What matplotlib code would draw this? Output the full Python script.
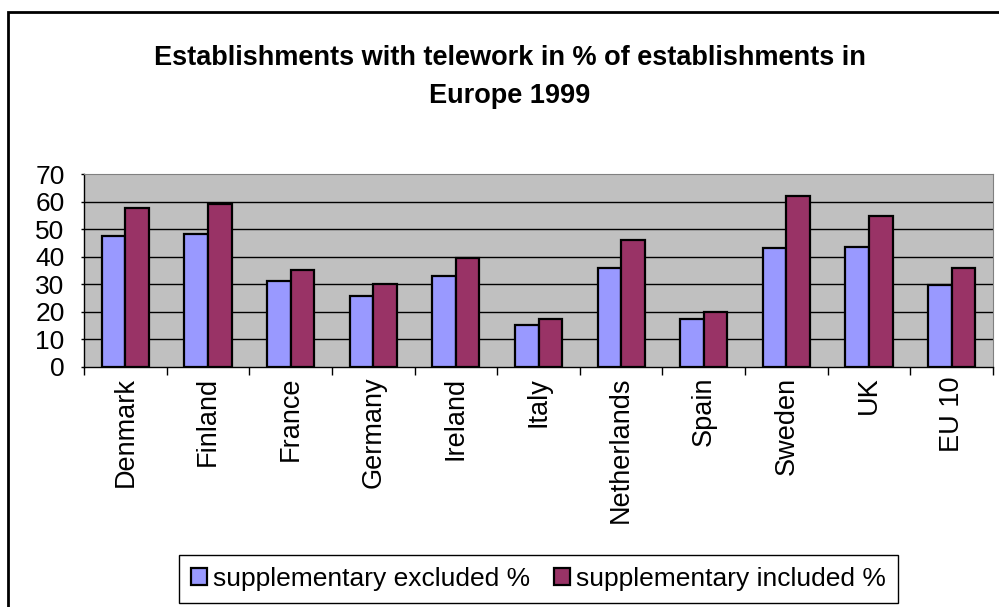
import numpy as np
import matplotlib.pyplot as plt
from matplotlib.patches import Rectangle

# Data
countries = ["Denmark", "Finland", "France", "Germany", "Ireland", "Italy",
             "Netherlands", "Spain", "Sweden", "UK", "EU 10"]
excluded = [47.4, 48.2, 31.3, 25.7, 32.9, 15.4, 35.8, 17.5, 43.1, 43.7, 29.9]
included = [57.6, 59.1, 35.1, 30.0, 39.4, 17.5, 46.0, 19.8, 62.1, 54.6, 35.8]
series_names = ["supplementary excluded %", "supplementary included %"]
title = "Establishments with telework in % of establishments in\nEurope 1999"

BLUE = "#9999FF"
PLUM = "#993366"
GREY = "#C0C0C0"

plt.rcParams['font.family'] = ['Liberation Sans', 'DejaVu Sans']

fig = plt.figure(figsize=(9.99, 6.07), dpi=100)
W, H = 999, 607

# outer chart frame (right and bottom run off the canvas)
fig.patches.append(Rectangle((8 / W, -0.05), 1.1, 1 - 12 / H + 0.05,
                             transform=fig.transFigure, fill=False,
                             edgecolor="black", linewidth=2))

ax = fig.add_axes([84 / W, 1 - 367 / H, (993 - 84) / W, (367 - 174) / H])
ax.set_facecolor(GREY)

n = len(countries)
centers = np.arange(n) + 0.5
bw = 1 / 3.5
ax.bar(centers - bw / 2, excluded, bw, color=BLUE, edgecolor="black",
       linewidth=1.6, label=series_names[0], zorder=3)
ax.bar(centers + bw / 2, included, bw, color=PLUM, edgecolor="black",
       linewidth=1.6, label=series_names[1], zorder=3)

ax.set_xlim(0, n)
ax.set_ylim(0, 70)
ax.set_yticks(range(0, 71, 10))
for y in range(10, 70, 10):
    ax.axhline(y, color="black", linewidth=1, zorder=1)

# category ticks sit on group boundaries, labels in the middle
ax.set_xticks(np.arange(n + 1))
ax.set_xticklabels([])
ax.set_xticks(centers, minor=True)
ax.set_xticklabels(countries, minor=True, rotation=90, fontsize=19.5)
ax.tick_params(axis="x", which="minor", length=0, pad=7)
ax.tick_params(axis="x", which="major", length=6, width=1, direction="out")
ax.tick_params(axis="y", length=2, width=1, labelsize=19, pad=12)

for side in ("top", "right"):
    ax.spines[side].set_color("#808080")
for side in ("left", "bottom"):
    ax.spines[side].set_color("black")
    ax.spines[side].set_linewidth(1)

fig.text(0.51, 1 - 77 / H, title, ha="center", va="center", fontsize=19.5,
         fontweight="bold", linespacing=1.6)

leg = fig.legend(loc="center", bbox_to_anchor=((179 + 898) / 2 / W, 1 - 579 / H),
                 ncol=2, fontsize=19, frameon=True, fancybox=False,
                 edgecolor="black", framealpha=1, handlelength=0.6,
                 handleheight=0.6, handletextpad=0.25, columnspacing=0.9,
                 borderpad=0.45)
leg.get_frame().set_linewidth(1)

fig.savefig("out.png", dpi=100)
